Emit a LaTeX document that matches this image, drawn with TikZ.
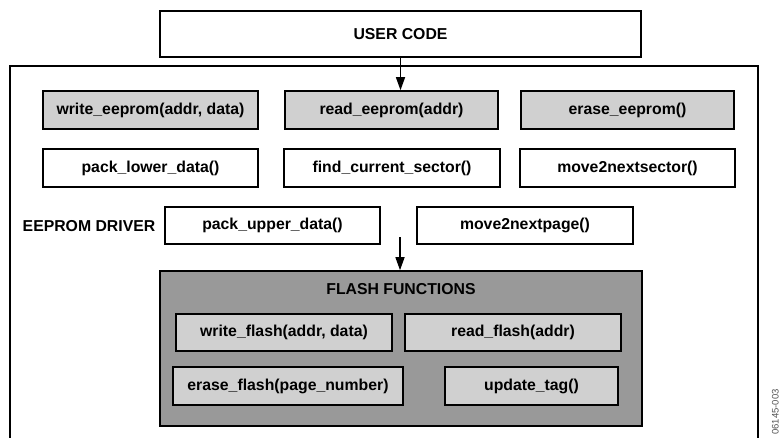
\documentclass[tikz,border=0pt]{standalone}
\usepackage{fontspec}
\setmainfont{Liberation Sans}
\usetikzlibrary{arrows.meta}
\definecolor{lightfill}{HTML}{D0D0D0}
\definecolor{darkfill}{HTML}{999999}
\definecolor{idgray}{HTML}{555555}
\begin{document}
\begin{tikzpicture}[x=1pt,y=-1pt,
  fbox/.style={draw=black,line width=1.6pt,inner sep=0pt,
    font=\fontsize{15.8}{18}\selectfont\bfseries,align=center},
  graybox/.style={fbox,fill=lightfill},
  whitebox/.style={fbox,fill=white},
  arr/.style={line width=1.4pt,-{Triangle[length=13pt,width=9pt]}},
  lbl/.style={font=\fontsize{15.8}{18}\selectfont\bfseries,inner sep=0pt}]
\useasboundingbox (0,0) rectangle (781,437);
\fill[white] (0,0) rectangle (781,437);
% outer EEPROM driver frame (open at bottom)
\draw[line width=1.3pt] (10,445) -- (10,66) -- (758,66) -- (758,445);
% user code
\node[whitebox,minimum width=481pt,minimum height=46pt] (user) at (400.5,34) {USER CODE};
% row 1
\node[graybox,minimum width=215pt,minimum height=38pt] (weep) at (150.5,110) {write\_eeprom(addr, data)};
\node[graybox,minimum width=213pt,minimum height=38pt] (reep) at (391.5,110) {read\_eeprom(addr)};
\node[graybox,minimum width=213pt,minimum height=38pt] (eeep) at (627.5,110) {erase\_eeprom()};
% row 2
\node[whitebox,minimum width=215pt,minimum height=38pt] (plow) at (150.5,168) {pack\_lower\_data()};
\node[whitebox,minimum width=216pt,minimum height=38pt] (fcs) at (392,168) {find\_current\_sector()};
\node[whitebox,minimum width=215pt,minimum height=38pt] (mns) at (627.5,168) {move2nextsector()};
% row 3
\node[lbl] (drv) at (89,226) {EEPROM DRIVER};
\node[whitebox,minimum width=215pt,minimum height=37pt] (pup) at (272.5,225.5) {pack\_upper\_data()};
\node[whitebox,minimum width=216pt,minimum height=37pt] (mnp) at (525,225.5) {move2nextpage()};
% flash functions
\node[draw=black,line width=1.6pt,fill=darkfill,minimum width=482pt,minimum height=155pt,inner sep=0pt] (flash) at (401,348.5) {};
\node[lbl] (ftitle) at (401,289) {FLASH FUNCTIONS};
\node[graybox,minimum width=216pt,minimum height=37pt] (wfl) at (284,332.5) {write\_flash(addr, data)};
\node[graybox,minimum width=216pt,minimum height=37pt] (rfl) at (513,332.5) {read\_flash(addr)};
\node[graybox,minimum width=230pt,minimum height=38pt] (efl) at (288,386) {erase\_flash(page\_number)};
\node[graybox,minimum width=173pt,minimum height=38pt] (utag) at (531.5,386) {update\_tag()};
% arrows
\draw[arr] (user.south) -- (user.south |- reep.north);
\coordinate (a2) at (400,237);
\draw[arr] (a2) -- (a2 |- flash.north);
% figure id
\node[rotate=90,anchor=base west,inner sep=0pt,text=idgray,font=\fontsize{9.5}{10}\selectfont] (figid) at (778.5,435) {06145-003};
\end{tikzpicture}
\end{document}
